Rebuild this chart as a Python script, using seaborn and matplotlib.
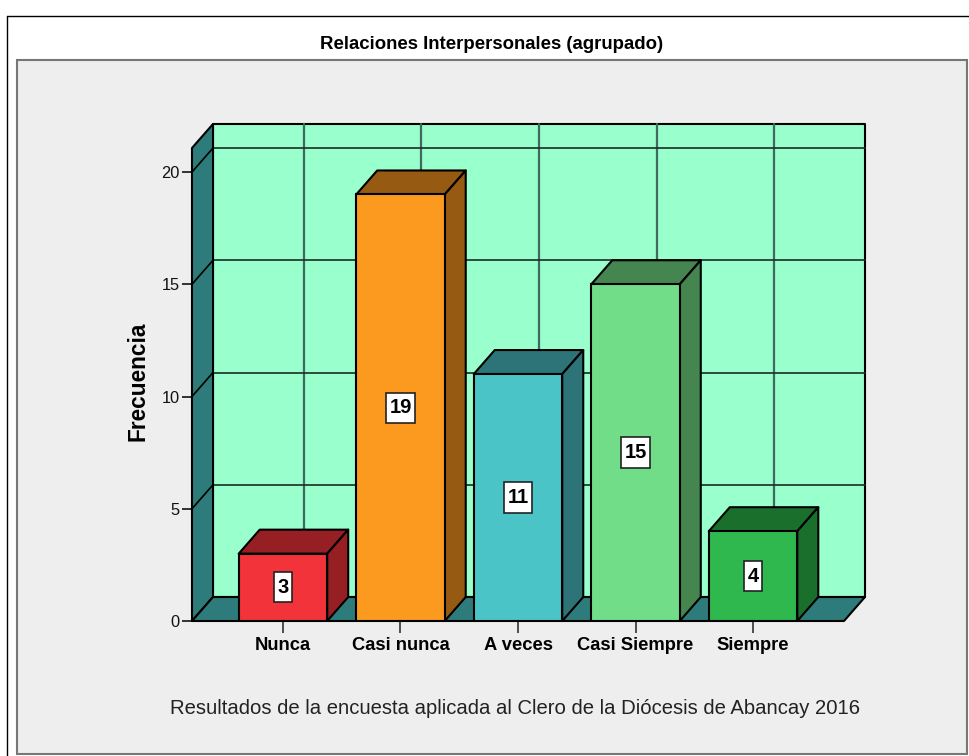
import matplotlib
matplotlib.use("Agg")
import matplotlib.pyplot as plt
from matplotlib.patches import Polygon, Rectangle
from matplotlib.path import Path
from matplotlib.lines import Line2D
import pandas as pd
import seaborn as sns

categorias = ["Nunca", "Casi nunca", "A veces", "Casi Siempre", "Siempre"]
frecuencias = [3, 19, 11, 15, 4]
colores_frente = ["#f2333a", "#fb9a1e", "#4bc4c8", "#72dd88", "#2eb84d"]
colores_lado = ["#961f24", "#965a12", "#2d7478", "#45854f", "#1b6f2d"]
marcas_y = [0, 5, 10, 15, 20]

titulo = "Relaciones Interpersonales (agrupado)"
eje_y = "Frecuencia"
pie = "Resultados de la encuesta aplicada al Clero de la Diócesis de Abancay 2016"

W, H = 969, 756
sns.set_theme(style="white")
plt.rcParams["font.family"] = ["Liberation Sans", "DejaVu Sans"]

fig = plt.figure(figsize=(W / 100, H / 100), dpi=100, facecolor="white")


def fx(px):
    return px / W


def fy(py):
    return 1 - py / H


# outer frame and gray panel (behind the axes)
fig.add_artist(Line2D([fx(7), fx(7)], [fy(756), fy(15.5)], color="black", lw=1.0, zorder=-2))
fig.add_artist(Line2D([fx(7), fx(969)], [fy(15.5), fy(15.5)], color="black", lw=1.0, zorder=-2))
fig.add_artist(Rectangle((fx(17), fy(754)), fx(950), fy(59.5) - fy(754),
                         transform=fig.transFigure, facecolor="#eeeeee",
                         edgecolor="#777777", lw=1.5, zorder=-1))

ax = fig.add_axes([fx(192), fy(621), fx(844 - 192), fy(148) - fy(621)])
ax.patch.set_alpha(0)

df = pd.DataFrame({"categoria": categorias, "frecuencia": frecuencias})
sns.barplot(data=df, x="categoria", y="frecuencia", hue="categoria",
            palette=colores_frente, saturation=1, width=0.753, legend=False,
            edgecolor="black", linewidth=1.5, zorder=6, ax=ax)

x0, x1 = -0.774, 4.774
y0, y1 = 0, 21.07
ax.set_xlim(x0, x1)
ax.set_ylim(y0, y1)

# depth of the 3D box, in data units
DX = 21 / 117.5
DY = 24 / 22.45


def cara(puntos, color, z):
    ax.add_patch(Polygon(puntos, closed=True, facecolor=color, edgecolor="black",
                         lw=1.5, zorder=z, clip_on=False, joinstyle="round"))


def caja_etiqueta(x, y, ancho, alto, escala):
    """Label box: taller padding than wide padding."""
    px, py = 0.16 * escala, 0.28 * escala
    a, b = x - px, y - py
    c, d = x + ancho + px, y + alto + py
    return Path([(a, b), (c, b), (c, d), (a, d), (a, b)], closed=True)


# walls
muro = "#2e7b7b"
cara([(x0 + DX, y0 + DY), (x1 + DX, y0 + DY), (x1 + DX, y1 + DY), (x0 + DX, y1 + DY)],
     "#99ffcc", 1)
cara([(x0, y0), (x0 + DX, y0 + DY), (x0 + DX, y1 + DY), (x0, y1)], muro, 2)
cara([(x0, y0), (x1, y0), (x1 + DX, y0 + DY), (x0 + DX, y0 + DY)], muro, 2)

# grid on the back wall and side wall
for i in range(len(categorias)):
    ax.plot([i + DX, i + DX], [y0 + DY, y1 + DY], color="#3f6b5e", lw=1.6,
            zorder=1.5, clip_on=False)
for v in marcas_y[1:]:
    ax.plot([x0 + DX, x1 + DX], [v + DY, v + DY], color="#1c2c28", lw=1.2,
            zorder=1.5, clip_on=False)
for v in marcas_y[1:]:
    ax.plot([x0, x0 + DX], [v, v + DY], color="black", lw=1.2, zorder=3,
            clip_on=False)

# 3D sides of each bar, taken from the bars seaborn drew
barras = [b for c in ax.containers for b in c]
for barra, lado in zip(barras, colores_lado):
    izq, der = barra.get_x(), barra.get_x() + barra.get_width()
    alto = barra.get_height()
    cara([(izq, alto), (der, alto), (der + DX, alto + DY), (izq + DX, alto + DY)], lado, 5)
    cara([(der, 0), (der + DX, DY), (der + DX, alto + DY), (der, alto)], lado, 5)

for cont in ax.containers:
    for t in ax.bar_label(cont, label_type="center", fontsize=14.5, fontweight="bold",
                          color="black",
                          bbox=dict(boxstyle=caja_etiqueta, facecolor="white",
                                    edgecolor="#222222", lw=1.2)):
        t.set_zorder(8)

sns.despine(ax=ax, top=True, right=True, left=True, bottom=True)
ax.set_yticks(marcas_y)
ax.tick_params(axis="y", left=True, length=7.5, width=1.1, color="black", pad=1.5,
               labelsize=11.8, labelcolor="#111111")
ax.tick_params(axis="x", bottom=True, length=8.6, width=1.1, color="#222222", pad=2.8,
               labelsize=13.2, labelcolor="black")
for t in ax.get_xticklabels():
    t.set_fontweight("bold")

ax.set_xlabel("")
ax.set_ylabel(eje_y, fontsize=16.3, fontweight="bold", color="black")
ax.yaxis.set_label_coords((149 - 192) / 652, 0.507)

fig.suptitle(titulo, x=fx(492), y=fy(44.5), va="center", ha="center",
             fontsize=13.4, fontweight="bold", color="black")
fig.text(fx(170), fy(709), pie, ha="left", va="center", fontsize=14.6, color="#222222")

fig.savefig("out.png", dpi=100, facecolor="white")
